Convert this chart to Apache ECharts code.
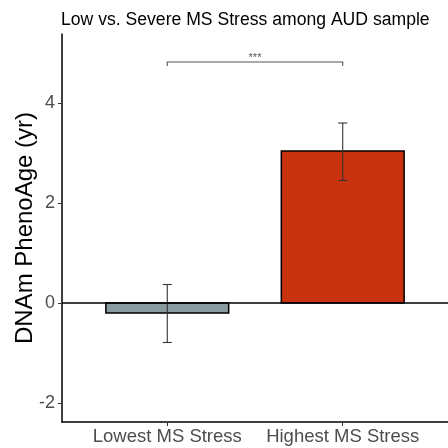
<!DOCTYPE html>
<html>
<head>
<meta charset="utf-8">
<script src="https://cdn.jsdelivr.net/npm/echarts@6/dist/echarts.min.js"></script>
<style>
  html, body { margin: 0; padding: 0; background: #fff; }
  #chart { width: 448px; height: 448px; }
</style>
</head>
<body>
<div id="chart"></div>
<script>
// Group labels and their positions on the x scale
const categories = ['Lowest MS Stress', 'Highest MS Stress'];
const groupPositions = [1, 2];
// Mean DNAm PhenoAge acceleration (yr) per group
const means = [-0.2, 3.04];
// Error bar limits per group
const errLow = [-0.79, 2.45];
const errHigh = [0.37, 3.6];
const barColors = ['#8A9BA0', '#C8320F'];
// Y tick positions and axis title
const yTicks = [-2, 0, 2, 4];
const yTitle = 'DNAm PhenoAge (yr)';
// Significance bracket between the two groups
const bracket = { from: 1, to: 2, y: 4.82, drop: 0.08, label: '***' };

const BAR_WIDTH = 0.7; // in x-scale units
const FONT = 'Liberation Sans';
const X_MIN = 0.4, X_MAX = 2.6, Y_MIN = -2.38, Y_MAX = 5.38;

const chart = echarts.init(document.getElementById('chart'), null, { renderer: 'canvas' });

const barData = means.map((v, i) => [groupPositions[i], v, i]);
const errData = means.map((v, i) => [groupPositions[i], errLow[i], errHigh[i]]);

chart.setOption({
  animation: false,
  title: {
    text: 'Low vs. Severe MS Stress among AUD sample',
    left: 61,
    top: 11,
    padding: 0,
    textStyle: { fontFamily: FONT, fontSize: 17.6, fontWeight: 'normal', color: '#000' }
  },
  grid: { left: 62, top: 34, width: 388, height: 388, containLabel: false },
  xAxis: {
    type: 'value',
    min: X_MIN,
    max: X_MAX,
    splitLine: { show: false },
    axisLine: { show: true, onZero: false, lineStyle: { color: '#000', width: 1.5 } },
    axisTick: { show: true, length: 4, customValues: groupPositions, lineStyle: { color: '#333', width: 1 } },
    axisLabel: {
      customValues: groupPositions,
      formatter: v => categories[groupPositions.indexOf(Math.round(v))] || '',
      margin: 5,
      fontFamily: FONT, fontSize: 18.5, color: '#4D4D4D'
    }
  },
  yAxis: {
    type: 'value',
    min: Y_MIN,
    max: Y_MAX,
    splitLine: { show: false },
    axisLine: { show: true, onZero: false, lineStyle: { color: '#000', width: 1.5 } },
    axisTick: { show: true, length: 4, customValues: yTicks, lineStyle: { color: '#333', width: 1 } },
    // tick labels and the axis title are placed as graphic text below
    axisLabel: { show: false }
  },
  series: [
    {
      // bars drawn as rectangles spanning 0..mean
      type: 'custom',
      data: barData,
      z: 2,
      renderItem: (params, api) => {
        const x = api.value(0);
        const v = api.value(1);
        const p1 = api.coord([x - BAR_WIDTH / 2, Math.max(v, 0)]);
        const p2 = api.coord([x + BAR_WIDTH / 2, Math.min(v, 0)]);
        return {
          type: 'rect',
          shape: { x: p1[0], y: p1[1], width: p2[0] - p1[0], height: p2[1] - p1[1] },
          style: { fill: barColors[api.value(2)], stroke: '#000', lineWidth: 1.5 }
        };
      },
      markLine: {
        silent: true,
        symbol: 'none',
        label: { show: false },
        lineStyle: { color: '#000', width: 1.5, type: 'solid' },
        data: [{ yAxis: 0 }]
      }
    },
    {
      type: 'custom',
      data: errData,
      z: 3,
      renderItem: (params, api) => {
        const x = api.value(0);
        const lo = api.coord([x, api.value(1)]);
        const hi = api.coord([x, api.value(2)]);
        const cap = 4.5;
        const style = { stroke: '#333', lineWidth: 1.1 };
        return {
          type: 'group',
          children: [
            { type: 'line', shape: { x1: lo[0], y1: lo[1], x2: hi[0], y2: hi[1] }, style },
            { type: 'line', shape: { x1: lo[0] - cap, y1: lo[1], x2: lo[0] + cap, y2: lo[1] }, style },
            { type: 'line', shape: { x1: hi[0] - cap, y1: hi[1], x2: hi[0] + cap, y2: hi[1] }, style }
          ]
        };
      }
    },
    {
      type: 'custom',
      data: [[bracket.from, bracket.to, bracket.y, bracket.drop]],
      z: 3,
      renderItem: (params, api) => {
        const a = api.coord([api.value(0), api.value(2)]);
        const b = api.coord([api.value(1), api.value(2)]);
        const a2 = api.coord([api.value(0), api.value(2) - api.value(3)]);
        const style = { stroke: '#555', lineWidth: 1.1, fill: null };
        const dy = a2[1] - a[1];
        return {
          type: 'group',
          children: [
            { type: 'polyline', shape: { points: [[a[0], a[1] + dy], a, b, [b[0], b[1] + dy]] }, style },
            {
              type: 'text',
              x: (a[0] + b[0]) / 2,
              y: a[1] + 1,
              style: {
                text: bracket.label,
                fill: '#555',
                fontFamily: FONT,
                fontSize: 11,
                align: 'center',
                verticalAlign: 'bottom'
              }
            }
          ]
        };
      }
    }
  ]
});

// Y tick labels and axis title, positioned through the y scale
const axisX = chart.convertToPixel({ gridIndex: 0 }, [X_MIN, 0])[0];
const midY = (chart.convertToPixel({ gridIndex: 0 }, [X_MIN, Y_MIN])[1] +
              chart.convertToPixel({ gridIndex: 0 }, [X_MIN, Y_MAX])[1]) / 2;
const tickTexts = yTicks.map(t => ({
  type: 'text',
  x: axisX - 7,
  y: chart.convertToPixel({ gridIndex: 0 }, [X_MIN, t])[1],
  silent: true,
  style: {
    text: String(t),
    fill: '#4D4D4D',
    fontFamily: FONT,
    fontSize: 18,
    align: 'right',
    verticalAlign: 'middle'
  }
}));
chart.setOption({
  graphic: [
    ...tickTexts,
    {
      type: 'text',
      x: axisX - 37,
      y: midY,
      rotation: Math.PI / 2,
      silent: true,
      style: {
        text: yTitle,
        fill: '#000',
        fontFamily: FONT,
        fontSize: 24,
        align: 'center',
        verticalAlign: 'middle'
      }
    }
  ]
});
</script>
</body>
</html>
